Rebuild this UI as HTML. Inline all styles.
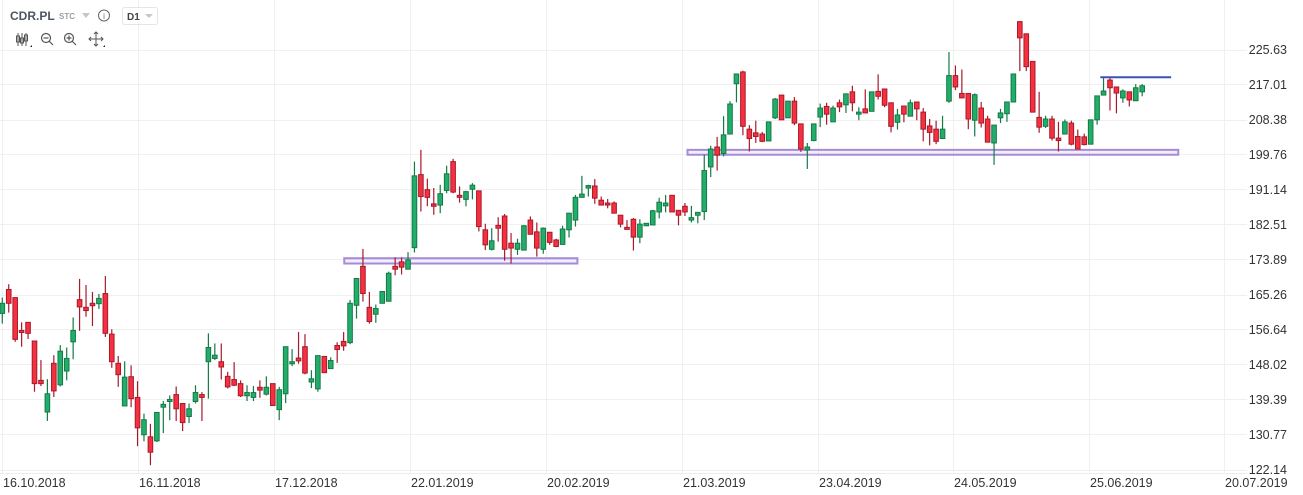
<!DOCTYPE html>
<html><head><meta charset="utf-8">
<style>
body{margin:0;background:#fff;width:1303px;height:495px;overflow:hidden;font-family:"Liberation Sans",sans-serif;}
#wrap{position:relative;width:1303px;height:495px;}
svg{position:absolute;left:0;top:0;}
</style></head><body>
<div id="wrap">
<svg id="chart" width="1303" height="495">
  <g id="grid"></g>
  <g id="zones"></g>
  <g id="candles"></g>
  <g id="yaxis"></g>
  <g id="xaxis"></g>
  <g>
    <text x="10" y="20" font-size="12" font-weight="bold" fill="#4b5563">CDR.PL</text>
    <text x="59" y="19" font-size="8" font-weight="bold" fill="#9aa0a6">STC</text>
    <path d="M82 13 L90 13 L86 18 Z" fill="#c4c7cc"/>
    <g>
      <circle cx="104" cy="15.5" r="5.5" fill="none" stroke="#666" stroke-width="1"/>
      <text x="104" y="19" font-size="8" text-anchor="middle" fill="#666">i</text>
    </g>
    <g>
      <rect x="122.5" y="7.5" width="35" height="17" rx="2" fill="#fff" stroke="#e3e5e8"/>
      <text x="127" y="20" font-size="10" font-weight="bold" fill="#444">D1</text>
      <path d="M145 14 L153 14 L149 18 Z" fill="#c4c7cc"/>
    </g>
    <g stroke="#555" fill="none" stroke-width="1">
      <line x1="18" y1="33" x2="18" y2="46"/><rect x="16.5" y="36" width="3" height="6"/>
      <line x1="22" y1="33" x2="22" y2="46"/><rect x="20.5" y="38" width="3" height="5"/>
      <line x1="26" y1="33" x2="26" y2="46"/><rect x="24.5" y="35" width="3" height="6"/>
      <path d="M30 47 L32 45 L32 47 Z" fill="#222" stroke="none"/>
    </g>
    <g stroke="#555" fill="none" stroke-width="1.2">
      <circle cx="46" cy="38" r="4.5"/><line x1="49" y1="41" x2="53" y2="45"/><line x1="43.5" y1="38" x2="48.5" y2="38"/>
    </g>
    <g stroke="#555" fill="none" stroke-width="1.2">
      <circle cx="69" cy="38" r="4.5"/><line x1="72" y1="41" x2="76" y2="45"/><line x1="66.5" y1="38" x2="71.5" y2="38"/><line x1="69" y1="35.5" x2="69" y2="40.5"/>
    </g>
    <g stroke="#555" fill="none" stroke-width="1">
      <line x1="96" y1="32" x2="96" y2="46"/><line x1="89" y1="39" x2="103" y2="39"/>
      <path d="M94 34 L96 32 L98 34 M94 44 L96 46 L98 44 M91 37 L89 39 L91 41 M101 37 L103 39 L101 41"/>
      <path d="M103 47 L105 45 L105 47 Z" fill="#222" stroke="none"/>
    </g>
  </g>
</svg>
</div>
<script>
const opens  = [160.6,166.5,164.5,156.4,158.4,153.8,144.1,136.3,148.3,143.0,146.4,153.6,164.0,162.1,163.1,163.0,165.5,155.5,148.3,137.8,145.0,139.9,130.7,130.2,129.2,137.5,138.9,140.6,138.4,135.2,138.9,140.6,148.7,149.5,148.7,145.1,144.3,143.3,140.3,139.9,142.4,140.7,143.3,136.9,140.8,148.2,149.6,152.4,143.7,142.0,150.0,147.0,152.7,153.7,153.4,162.6,172.2,162.1,160.4,163.1,163.6,172.2,173.3,171.5,176.8,194.8,191.1,187.6,187.3,190.9,198.0,189.7,188.7,191.2,190.8,181.2,176.4,182.3,184.6,177.9,176.4,176.2,183.6,180.7,176.4,180.6,178.7,177.6,181.2,183.6,189.2,191.5,192.0,188.5,187.8,187.8,184.8,181.8,183.8,179.4,182.2,182.4,185.6,187.1,189.7,186.0,187.0,183.6,184.8,185.7,196.7,201.6,200.0,204.8,217.2,220.1,206.0,205.1,204.8,203.1,208.8,214.4,208.8,212.9,207.3,200.9,203.2,209.0,211.6,207.8,212.5,212.0,215.2,209.7,211.0,210.4,215.3,215.9,212.5,207.7,211.7,209.2,212.7,210.2,206.8,206.0,203.7,212.9,219.2,214.8,214.8,208.2,211.2,208.5,202.6,208.8,209.8,212.7,232.5,229.5,222.7,208.9,206.7,208.5,203.8,204.8,207.5,204.2,204.1,202.3,208.3,214.4,218.1,216.4,213.7,215.2,213.0,215.2];
const highs  = [164.5,167.8,164.5,158.4,158.4,153.8,149.1,144.4,150.3,152.8,152.2,159.6,169.1,167.6,165.9,165.4,169.8,156.7,150.1,148.8,147.8,143.9,135.9,133.4,136.2,139.0,140.4,142.6,138.4,138.4,142.9,141.2,155.7,153.2,153.2,146.2,148.6,144.1,142.9,142.7,144.1,145.1,143.3,142.5,152.4,151.8,156.0,155.5,146.6,150.2,150.0,149.8,153.5,156.0,163.9,169.2,176.5,165.9,162.8,166.0,170.9,174.4,174.4,175.7,198.0,200.9,193.8,191.5,192.3,197.0,198.7,191.9,190.8,192.7,190.8,182.7,181.6,184.3,185.1,180.4,179.0,182.4,184.5,183.0,181.8,180.6,179.0,182.2,185.3,189.8,194.5,192.3,193.7,189.4,188.8,188.2,184.8,183.6,184.1,183.8,182.8,186.1,189.1,189.8,189.7,186.0,187.8,187.1,185.5,199.7,201.9,204.1,209.2,212.9,219.6,220.4,207.0,208.1,205.3,207.8,213.7,214.4,212.9,213.9,207.3,202.6,207.3,212.3,212.5,211.8,213.3,214.7,216.7,211.4,215.8,215.2,219.5,215.9,212.5,211.0,211.7,213.3,212.7,211.2,208.5,208.1,209.3,225.0,221.7,220.7,214.8,214.8,212.7,209.3,207.0,211.0,212.7,219.6,232.5,229.5,222.7,215.2,209.3,209.3,207.8,208.4,208.1,205.9,204.9,208.3,214.2,218.6,218.6,216.4,215.8,215.2,217.1,217.1];
const lows   = [158.1,160.8,153.6,152.4,154.3,141.3,142.7,134.1,140.0,142.6,144.1,149.3,156.3,159.8,157.5,161.7,154.8,147.2,142.5,137.8,137.5,127.9,129.1,123.2,128.9,131.1,134.3,134.1,131.6,133.6,138.4,134.1,139.6,149.1,144.3,142.1,142.7,140.0,139.0,139.0,139.8,140.4,137.9,134.3,138.5,147.6,148.2,145.6,142.2,141.3,146.0,147.0,148.4,151.4,153.0,159.3,163.5,158.1,158.3,163.1,163.6,170.0,170.2,171.5,175.6,185.7,187.0,184.9,185.3,190.2,190.2,187.9,187.0,188.7,180.8,176.2,176.1,178.3,173.6,172.9,175.0,176.2,180.1,174.6,175.3,177.5,176.9,177.6,179.3,182.0,189.2,189.4,187.6,187.3,186.5,185.3,181.8,181.3,176.1,177.9,182.2,182.4,184.0,185.5,185.6,182.3,184.6,183.0,182.8,183.6,194.2,195.8,199.3,204.8,212.6,204.5,200.5,202.6,202.8,203.1,208.5,208.3,208.8,207.0,200.4,196.2,203.0,206.5,207.1,207.8,210.2,210.0,210.4,208.2,210.0,210.4,213.3,211.4,205.2,205.9,207.7,209.2,208.2,203.0,202.0,202.3,203.7,212.5,215.6,213.7,206.0,204.2,206.4,202.8,197.2,207.5,207.8,212.7,220.3,220.3,210.2,205.1,206.3,203.2,200.5,204.8,202.0,201.1,202.0,202.3,207.1,214.4,210.6,209.9,212.5,211.6,213.0,214.1];
const closes = [163.1,163.1,154.2,155.9,155.7,143.3,143.3,140.8,141.5,151.3,149.5,156.4,162.2,161.3,162.5,164.3,155.7,148.7,145.5,144.9,139.6,132.4,134.4,126.4,136.2,138.2,139.4,137.1,133.7,137.1,141.1,139.9,152.2,150.3,147.4,142.5,142.9,140.3,141.1,141.1,141.7,142.4,137.9,141.8,152.4,148.7,148.9,145.9,144.5,150.2,146.0,149.0,151.7,152.6,163.1,169.2,165.5,158.6,161.8,166.0,170.5,171.5,172.0,173.8,194.5,189.4,189.2,187.0,190.1,195.0,190.5,189.2,190.6,192.2,182.0,177.5,178.5,181.6,176.4,176.7,177.9,182.2,180.1,176.7,181.6,178.1,177.1,181.4,185.3,189.2,190.0,192.1,189.0,187.3,187.3,185.3,182.6,181.3,179.4,182.6,182.8,185.9,188.0,187.8,185.6,184.8,185.6,184.2,185.5,195.8,201.1,199.6,204.6,212.2,219.6,206.7,203.7,204.2,203.0,207.8,213.4,208.3,212.9,207.5,201.1,201.6,207.3,211.2,209.7,211.2,211.5,214.7,212.5,210.2,210.0,215.2,214.1,211.9,206.7,209.5,209.7,212.5,211.0,206.0,205.2,203.0,206.0,219.2,216.4,213.7,208.5,214.5,207.5,202.8,207.0,210.0,212.7,219.6,228.5,221.4,210.2,206.5,208.5,203.8,203.2,207.8,202.3,201.1,202.2,208.3,214.2,215.4,216.2,214.9,215.4,213.2,216.2,216.7];
const priceTicks = [225.63,217.01,208.38,199.76,191.14,182.51,173.89,165.26,156.64,148.02,139.39,130.77,122.14];
const dateLabels = ["16.10.2018","16.11.2018","17.12.2018","22.01.2019","20.02.2019","21.03.2019","23.04.2019","24.05.2019","25.06.2019","20.07.2019"];
const dateIndex = [0,21,42.2,63.3,84.4,105.5,126.6,147.7,168.8,189.7];
const zoneStart = [53.1,106.4]; const zoneEnd = [89.3,182.6];
const zoneHigh = [174.2,200.9]; const zoneLow = [172.9,199.7];
const resStart = [170.5]; const resEnd = [181.5]; const resLevel = [218.8];

const NS="http://www.w3.org/2000/svg";
const P_TOP=225.63,P_BOT=122.14,Y_TOP=49.5,Y_BOT=469.5;
function yS(p){return Y_TOP+(P_TOP-p)*(Y_BOT-Y_TOP)/(P_TOP-P_BOT);}
function xS(i){return 2.3+6.44*i;}
function mk(tag,attrs,parent){const e=document.createElementNS(NS,tag);for(const k in attrs)e.setAttribute(k,attrs[k]);parent.appendChild(e);return e;}
const grid=document.getElementById('grid');
priceTicks.forEach((t,i)=>{
  const l=mk('line',{x1:0,x2:1247,y1:Math.round(yS(t))+0.5,y2:Math.round(yS(t))+0.5,stroke:'#f0f0f0','stroke-width':1},grid);
  
  
  const tx=mk('text',{x:1287,y:yS(t)+4.5,'text-anchor':'end','font-size':12.5,fill:'#333'},document.getElementById('yaxis'));
  tx.textContent=t.toFixed(2);
  
  
});
mk('line',{x1:0,x2:1247,y1:473.5,y2:473.5,stroke:'#ececec'},grid);
dateLabels.forEach((d,i)=>{
  const x=Math.round(xS(dateIndex[i]))+0.5;
  const l=mk('line',{x1:x,x2:x,y1:0,y2:474,stroke:'#f0f0f0'},grid);
  
  
  const tx=mk('text',{x:x+0.5,y:487,'font-size':12.5,fill:'#333'},document.getElementById('xaxis'));
  tx.textContent=d;
  
  
});
const zones=document.getElementById('zones');
zoneStart.forEach((s,i)=>{
  const r=mk('rect',{x:xS(s),y:yS(zoneHigh[i]),width:xS(zoneEnd[i])-xS(s),height:yS(zoneLow[i])-yS(zoneHigh[i]),fill:'rgba(150,120,210,0.12)',stroke:'#a78bd6','stroke-width':2},zones);
  
  
});
resStart.forEach((s,i)=>{
  const l=mk('line',{x1:xS(s),x2:xS(resEnd[i]),y1:yS(resLevel[i]),y2:yS(resLevel[i]),stroke:'#3f51b5','stroke-width':2},zones);
  
  
});
const cg=document.getElementById('candles');
opens.forEach((o,i)=>{
  const c=closes[i],up=c>=o,x=xS(i);
  const g=mk('g',{},cg);
  
  
  mk('line',{x1:x,x2:x,y1:yS(highs[i]),y2:yS(lows[i]),stroke:up?'#137a45':'#a8192b','stroke-width':1.2},g);
  const top=yS(Math.max(o,c)),bot=yS(Math.min(o,c));
  mk('rect',{x:x-2.3,y:top,width:4.6,height:Math.max(1.5,bot-top),fill:up?'#22ad6b':'#f5303f',stroke:up?'#137a45':'#a8192b','stroke-width':1},g);
});
</script>
</body></html>
